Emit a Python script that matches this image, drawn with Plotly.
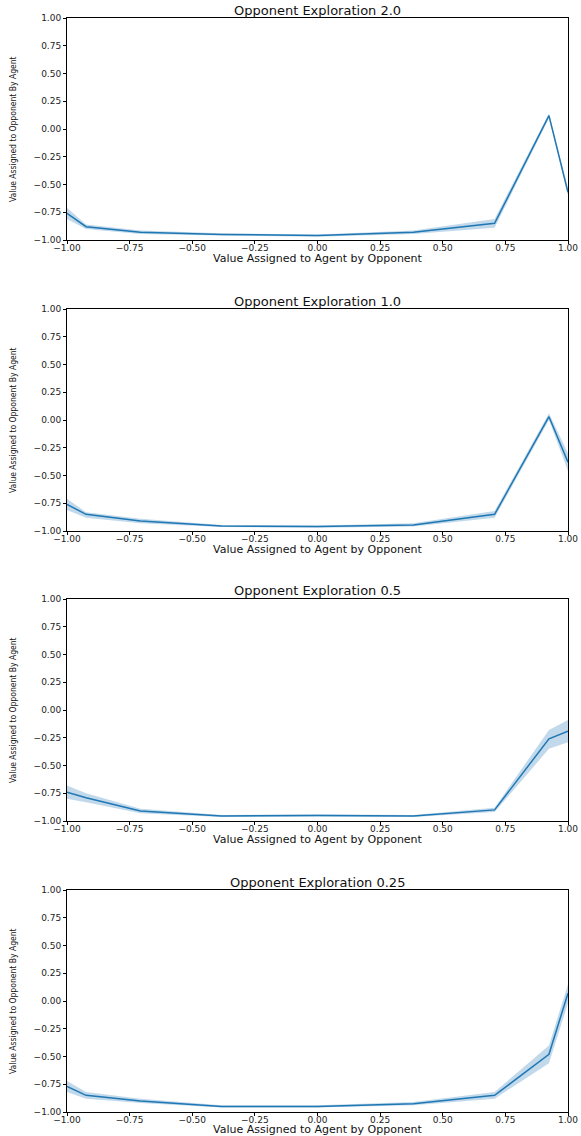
import plotly.graph_objects as go

x_vals = [-1.0, -0.924, -0.707, -0.383, 0.0, 0.383, 0.707, 0.924, 1.0]

titles = ["Opponent Exploration 2.0", "Opponent Exploration 1.0",
          "Opponent Exploration 0.5", "Opponent Exploration 0.25"]

mean_20 = [-0.76, -0.88, -0.93, -0.95, -0.96, -0.93, -0.85, 0.12, -0.57]
low_20 = [-0.81, -0.90, -0.945, -0.96, -0.97, -0.945, -0.89, 0.10, -0.60]
high_20 = [-0.71, -0.86, -0.915, -0.94, -0.95, -0.915, -0.81, 0.14, -0.54]

mean_10 = [-0.76, -0.85, -0.91, -0.955, -0.96, -0.945, -0.85, 0.03, -0.38]
low_10 = [-0.81, -0.88, -0.93, -0.965, -0.97, -0.96, -0.88, 0.00, -0.46]
high_10 = [-0.71, -0.83, -0.89, -0.945, -0.95, -0.93, -0.82, 0.06, -0.30]

mean_05 = [-0.74, -0.79, -0.91, -0.955, -0.95, -0.955, -0.90, -0.26, -0.19]
low_05 = [-0.80, -0.83, -0.93, -0.965, -0.96, -0.965, -0.92, -0.35, -0.29]
high_05 = [-0.68, -0.75, -0.89, -0.945, -0.94, -0.945, -0.88, -0.18, -0.09]

mean_025 = [-0.77, -0.85, -0.90, -0.95, -0.95, -0.925, -0.85, -0.48, 0.07]
low_025 = [-0.82, -0.88, -0.92, -0.96, -0.96, -0.94, -0.88, -0.56, -0.02]
high_025 = [-0.72, -0.82, -0.88, -0.94, -0.94, -0.91, -0.82, -0.40, 0.15]

series = [(mean_20, low_20, high_20), (mean_10, low_10, high_10),
          (mean_05, low_05, high_05), (mean_025, low_025, high_025)]

y_ticks = [-1.0, -0.75, -0.5, -0.25, 0.0, 0.25, 0.5, 0.75, 1.0]
x_ticks = [-1.0, -0.75, -0.5, -0.25, 0.0, 0.25, 0.5, 0.75, 1.0]

W = 581.0
H = 1136.0


def px_x(p):
    return p / W


def px_y(p):
    return 1 - p / H


panel_px = [(18, 240), (309, 531), (599, 821), (890, 1112)]
title_px = [10, 301, 591, 882]
xlab_px = [258, 549, 839, 1129]
x_dom = [px_x(67), px_x(568)]

LINE = "#1f77b4"
BAND = "rgba(31,119,180,0.28)"
TICKFONT = dict(family="DejaVu Sans", size=9, color="#222")

fig = go.Figure()
annotations = []
for i, ((m, lo, hi), t) in enumerate(zip(series, titles)):
    n = i + 1
    xa = "x" if n == 1 else f"x{n}"
    ya = "y" if n == 1 else f"y{n}"
    fig.add_trace(go.Scatter(x=x_vals + x_vals[::-1], y=hi + lo[::-1], mode="lines",
                             fill="toself", fillcolor=BAND, line=dict(width=0),
                             hoverinfo="skip", showlegend=False, xaxis=xa, yaxis=ya))
    fig.add_trace(go.Scatter(x=x_vals, y=m, mode="lines",
                             line=dict(color=LINE, width=1.5),
                             showlegend=False, xaxis=xa, yaxis=ya))
    top, bot = panel_px[i]
    ydom = [px_y(bot), px_y(top)]
    axis_common = dict(showgrid=False, zeroline=False, showline=True, linecolor="#000",
                       linewidth=1, mirror=True, ticks="outside", ticklen=3,
                       tickwidth=1, tickcolor="#000", tickfont=TICKFONT,
                       automargin=False)
    fig.update_layout(**{
        ("xaxis" if n == 1 else f"xaxis{n}"): dict(
            domain=x_dom, range=[-1, 1], anchor=ya, tickvals=x_ticks,
            ticktext=[f"{v:.2f}".replace("-", "\u2212") for v in x_ticks],
            ticklabelstandoff=-4, **axis_common),
        ("yaxis" if n == 1 else f"yaxis{n}"): dict(
            domain=ydom, range=[-1, 1], anchor=xa, tickvals=y_ticks,
            ticktext=[f"{v:.2f}".replace("-", "\u2212") for v in y_ticks],
            **axis_common),
    })
    annotations.append(dict(text=t, x=(x_dom[0] + x_dom[1]) / 2, y=px_y(title_px[i]),
                            xref="paper", yref="paper", showarrow=False,
                            xanchor="center", yanchor="middle",
                            font=dict(family="DejaVu Sans", size=13, color="#111")))
    annotations.append(dict(text="Value Assigned to Agent by Opponent",
                            x=(x_dom[0] + x_dom[1]) / 2, y=px_y(xlab_px[i]),
                            xref="paper", yref="paper", showarrow=False,
                            xanchor="center", yanchor="middle",
                            font=dict(family="DejaVu Sans", size=11, color="#111")))
    annotations.append(dict(text="Value Assigned to Opponent By Agent",
                            x=px_x(13), y=px_y((top + bot) / 2),
                            xref="paper", yref="paper", showarrow=False, textangle=-90,
                            xanchor="center", yanchor="middle",
                            font=dict(family="Liberation Sans Narrow, DejaVu Sans Condensed, DejaVu Sans",
                                      size=8.5, color="#111")))

fig.update_layout(width=int(W), height=int(H), margin=dict(l=0, r=0, t=0, b=0),
                  plot_bgcolor="white", paper_bgcolor="white",
                  annotations=annotations)

fig.write_html("out.html", config={"displayModeBar": False},
               post_script="document.body.style.margin='0px';document.body.style.overflow='hidden';")
